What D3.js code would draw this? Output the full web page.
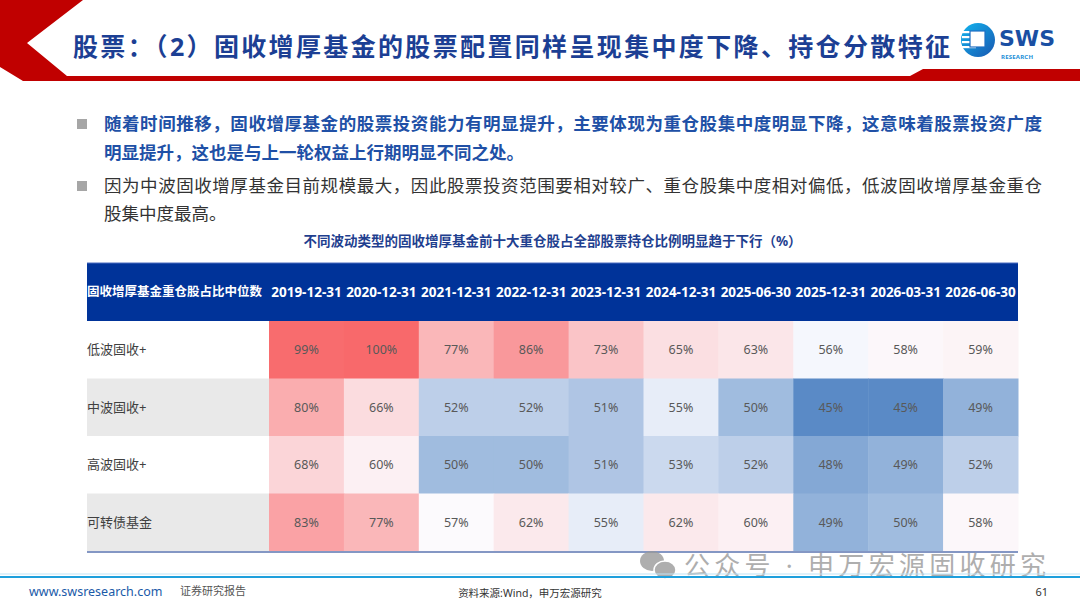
<!DOCTYPE html>
<html>
<head>
<meta charset="utf-8">
<script src="https://cdn.jsdelivr.net/npm/d3@7"></script>
<style>
    body{margin:0;background:#fff;}
    svg{display:block;font-family:"Noto Sans","Noto Sans CJK SC",sans-serif;}
</style>
</head>
<body>
<div id="chart"></div>
<script>
// table data
var dates = ['2019-12-31','2020-12-31','2021-12-31','2022-12-31','2023-12-31',
             '2024-12-31','2025-06-30','2025-12-31','2026-03-31','2026-06-30'];
var categories = ['低波固收+','中波固收+','高波固收+','可转债基金'];
var lowVol   = [99,100,77,86,73,65,63,56,58,59];
var midVol   = [80,66,52,52,51,55,50,45,45,49];
var highVol  = [68,60,50,50,51,53,52,48,49,52];
var convBond = [83,77,57,62,55,62,60,49,50,58];
var series = [lowVol, midVol, highVol, convBond];

var title = '股票：（2）固收增厚基金的股票配置同样呈现集中度下降、持仓分散特征';
var bullets = [
    {bold:true, lines:['随着时间推移，固收增厚基金的股票投资能力有明显提升，主要体现为重仓股集中度明显下降，这意味着股票投资广度',
                       '明显提升，这也是与上一轮权益上行期明显不同之处。']},
    {bold:false, lines:['因为中波固收增厚基金目前规模最大，因此股票投资范围要相对较广、重仓股集中度相对偏低，低波固收增厚基金重仓',
                        '股集中度最高。']}
];
var tableTitle = '不同波动类型的固收增厚基金前十大重仓股占全部股票持仓比例明显趋于下行（%）';
var headLabel = '固收增厚基金重仓股占比中位数';

(function(){
    'use strict';
    var W = 1080, H = 608;
    var blue = '#1c3f94';

    var svg = d3.select('#chart').append('svg')
        .attr('width', W).attr('height', H);

    // ---- header band ----
    svg.append('path')
        .attr('d','M0,0 L83,0 L27,43 L67,76 L910,76 L923,69 L1080,69 L1080,81 L23,81 L0,67 Z')
        .attr('fill','#c00000');

    svg.append('text')
        .attr('x',73).attr('y',47).attr('dy','0.35em')
        .attr('textLength',877).attr('lengthAdjust','spacing')
        .style('font-size','25px').style('font-weight','bold')
        .attr('fill',blue).text(title);

    // logo
    var grad = svg.append('defs').append('linearGradient')
        .attr('id','logoGrad').attr('x1','0').attr('y1','0').attr('x2','1').attr('y2','1');
    grad.append('stop').attr('offset','0%').attr('stop-color','#12b5ef');
    grad.append('stop').attr('offset','100%').attr('stop-color','#1856b0');
    var logo = svg.append('g');
    logo.append('circle').attr('cx',978).attr('cy',40).attr('r',17).attr('fill','url(#logoGrad)');
    [31,36,41,46].forEach(function(y){
        logo.append('rect').attr('x',962).attr('y',y).attr('width',14).attr('height',2.2).attr('fill','#fff');
    });
    logo.append('rect').attr('x',970).attr('y',31).attr('width',15).attr('height',16)
        .attr('fill','#fff').attr('stroke','#1f6fc4').attr('stroke-width',1.2);
    logo.append('text').attr('x',999).attr('y',46)
        .style('font-size','22px').style('font-weight','900').style('font-family','"DejaVu Sans",sans-serif')
        .attr('textLength',56).attr('lengthAdjust','spacingAndGlyphs')
        .attr('fill','#1a4fa3').text('SWS');
    logo.append('text').attr('x',1001).attr('y',58.5)
        .style('font-size','6px').style('font-weight','bold')
        .attr('textLength',32).attr('fill','#1b8fd8').text('RESEARCH');

    // ---- bullet points ----
    var lineY = [124,153,186,214];
    var k = 0;
    bullets.forEach(function(b){
        svg.append('rect').attr('x',77).attr('y',lineY[k]-5).attr('width',10).attr('height',10)
            .attr('fill','#a6a6a6');
        b.lines.forEach(function(line, i){
            var t = svg.append('text')
                .attr('x',104).attr('y',lineY[k]).attr('dy','0.35em')
                .style('font-size','17.5px')
                .style('font-weight', b.bold ? 'bold' : 'normal')
                .attr('fill', b.bold ? '#2050a6' : '#333')
                .text(line);
            if(i === 0){
                t.attr('textLength',938).attr('lengthAdjust','spacing');
            }
            k++;
        });
    });

    // ---- table ----
    var tx0 = 87, tx1 = 269, tx2 = 1018;
    var headTop = 263, headBot = 321, tBot = 551;

    svg.append('text')
        .attr('x',(tx0+tx2)/2).attr('y',241).attr('dy','0.35em')
        .attr('text-anchor','middle')
        .style('font-size','13.5px').style('font-weight','bold')
        .attr('fill','#1f3f8f').text(tableTitle);

    var x = d3.scaleBand().domain(dates).range([tx1, tx2]);
    var y = d3.scaleBand().domain(categories).range([headBot, tBot]);

    var all = d3.merge(series);
    var color = d3.scaleLinear()
        .domain([d3.min(all), d3.median(all), d3.max(all)])
        .range(['#5A8AC6','#FCFCFF','#F8696B']);

    // header row
    svg.append('rect').attr('x',tx0).attr('y',headTop)
        .attr('width',tx2-tx0).attr('height',headBot-headTop)
        .attr('fill','#003399');
    svg.append('line').attr('x1',tx0).attr('x2',tx2).attr('y1',headTop).attr('y2',headTop)
        .attr('stroke','#4a6cc0').attr('stroke-width',1);
    svg.append('text').attr('x',tx0).attr('y',(headTop+headBot)/2).attr('dy','0.35em')
        .style('font-size','12.5px').style('font-weight','bold')
        .attr('fill','#fff').text(headLabel);
    svg.selectAll('.dateLabel').data(dates).enter()
        .append('text').attr('class','dateLabel')
        .attr('x',function(d){return x(d) + x.bandwidth()/2;})
        .attr('y',(headTop+headBot)/2).attr('dy','0.35em')
        .attr('text-anchor','middle')
        .style('font-size','13.5px').style('font-weight','bold')
        .attr('fill','#fff').text(function(d){return d;});

    // body rows
    var rows = svg.selectAll('.row').data(categories).enter()
        .append('g').attr('class','row')
        .attr('transform',function(d){return 'translate(0,'+y(d)+')';});

    rows.append('rect').attr('x',tx0).attr('width',tx1-tx0).attr('height',y.bandwidth())
        .attr('fill',function(d,i){return (i % 2) ? '#e9e9e9' : '#fff';});
    rows.append('text').attr('x',tx0).attr('y',y.bandwidth()/2).attr('dy','0.35em')
        .style('font-size','13px').attr('fill','#404040')
        .text(function(d){return d;});

    rows.each(function(cat, ri){
        var g = d3.select(this);
        var cells = g.selectAll('.cell').data(series[ri]).enter()
            .append('g').attr('class','cell')
            .attr('transform',function(d,i){return 'translate('+x(dates[i])+',0)';});
        cells.append('rect')
            .attr('width',x.bandwidth()+0.5).attr('height',y.bandwidth()+0.5)
            .attr('fill',function(d){return color(d);});
        cells.append('text')
            .attr('x',x.bandwidth()/2).attr('y',y.bandwidth()/2).attr('dy','0.35em')
            .attr('text-anchor','middle')
            .style('font-size','12.5px').attr('fill','#595959')
            .text(function(d){return d+'%';});
    });

    svg.append('line').attr('x1',tx0).attr('x2',tx2).attr('y1',tBot+1).attr('y2',tBot+1)
        .attr('stroke','#8497c4').attr('stroke-width',2);

    // ---- watermark ----
    var wm = svg.append('g').attr('opacity',0.8);
    wm.append('ellipse').attr('cx',652).attr('cy',561).attr('rx',12).attr('ry',10).attr('fill','#9a9a9a');
    wm.append('ellipse').attr('cx',665).attr('cy',570).attr('rx',11).attr('ry',9)
        .attr('fill','#9a9a9a').attr('stroke','#fff').attr('stroke-width',1.5);
    wm.append('text').attr('x',684).attr('y',566).attr('dy','0.35em')
        .style('font-size','26px').attr('textLength',362).attr('lengthAdjust','spacing')
        .attr('fill','#9a9a9a').text('公众号 · 申万宏源固收研究');

    // ---- footer ----
    svg.append('line').attr('x1',0).attr('x2',W).attr('y1',577).attr('y2',577)
        .attr('stroke','#1e9fdc').attr('stroke-width',2);
    svg.append('line').attr('x1',0).attr('x2',W).attr('y1',574).attr('y2',574)
        .attr('stroke','#bfe3f5').attr('stroke-width',1);
    svg.append('text').attr('x',29).attr('y',592).attr('dy','0.35em')
        .style('font-size','12.5px').attr('fill','#1a5aa8').text('www.swsresearch.com');
    svg.append('text').attr('x',180).attr('y',591).attr('dy','0.35em')
        .style('font-size','11px').attr('fill','#555').text('证券研究报告');
    svg.append('text').attr('x',530).attr('y',593).attr('dy','0.35em')
        .attr('text-anchor','middle')
        .style('font-size','10.5px').attr('fill','#333').text('资料来源:Wind，申万宏源研究');
    svg.append('text').attr('x',1048).attr('y',592).attr('dy','0.35em')
        .attr('text-anchor','end')
        .style('font-size','11px').attr('fill','#333').text('61');
}());
</script>
</body>
</html>
